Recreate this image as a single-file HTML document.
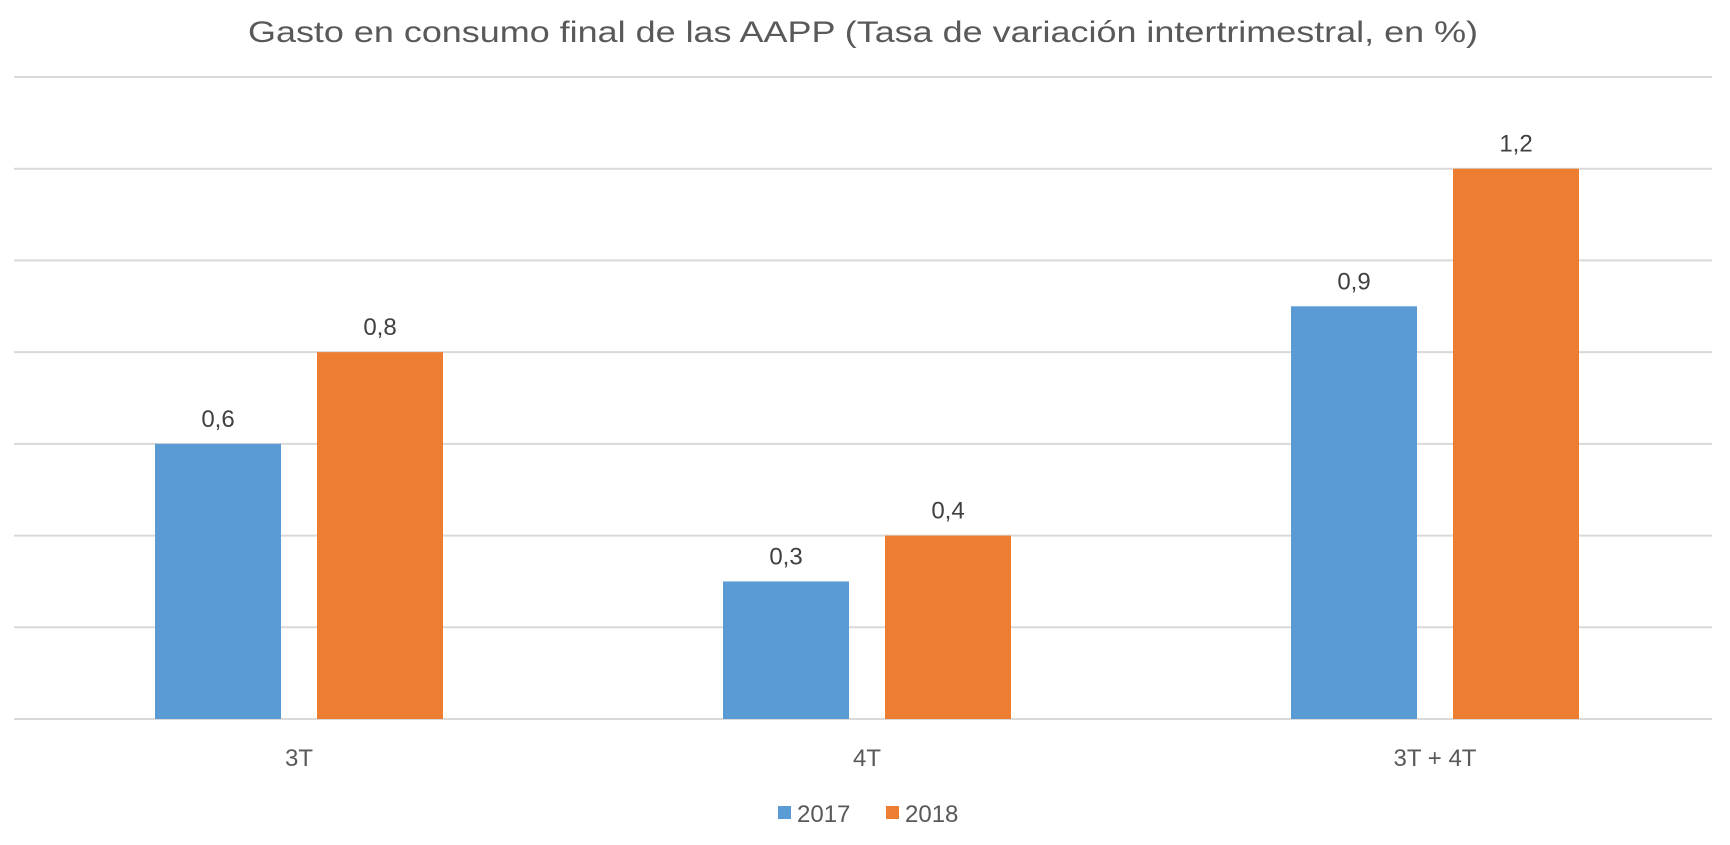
<!DOCTYPE html>
<html><head><meta charset="utf-8"><style>
html,body{margin:0;padding:0;background:#fff;}
svg{display:block;font-family:"Liberation Sans",sans-serif;}
</style></head><body>
<svg id="chart" width="1730" height="845">
<text x="863" y="42" text-anchor="middle" font-size="30" fill="#595959" textLength="1230" lengthAdjust="spacingAndGlyphs">Gasto en consumo final de las AAPP (Tasa de variación intertrimestral, en %)</text>
<g id="grid"></g><g id="bars"></g><g id="labels"></g>
<g>
<rect x="778" y="806" width="13" height="13" fill="#5B9BD5"/>
<text x="797" y="822" font-size="24" fill="#595959">2017</text>
<rect x="886" y="806" width="13" height="13" fill="#ED7D31"/>
<text x="905" y="822" font-size="24" fill="#595959">2018</text>
</g>
</svg>
<script>
const categories = ["3T", "4T", "3T + 4T"];
const series2017 = [0.6, 0.3, 0.9];
const series2018 = [0.8, 0.4, 1.2];
const yTicks = [0, 0.2, 0.4, 0.6, 0.8, 1.0, 1.2, 1.4];
const NS = "http://www.w3.org/2000/svg";
const gridLeft = 14, gridRight = 1712, left = 15, right = 1719, y0 = 719, yTop = 77, yMax = 1.4;
const y = v => y0 - (v / yMax) * (y0 - yTop);
const bandW = (right - left) / categories.length;
const xc = i => left + bandW * (i + 0.5);
const barW = 126, gap = 36;
function mk(tag, attrs, parent) {
  const e = document.createElementNS(NS, tag);
  for (const k in attrs) e.setAttribute(k, attrs[k]);
  parent.appendChild(e);
  return e;
}
const grid = document.getElementById('grid'), bars = document.getElementById('bars'), labels = document.getElementById('labels');
yTicks.forEach(t => {
  const l = mk('line', {x1: gridLeft, x2: gridRight, y1: y(t), y2: y(t), stroke: '#D9D9D9', 'stroke-width': 2}, grid);
  
  
});
const seriesList = [[series2017, '#5B9BD5', '2017'], [series2018, '#ED7D31', '2018']];
categories.forEach((c, i) => {
  seriesList.forEach(([vals, col, name], s) => {
    const x = s === 0 ? xc(i) - gap / 2 - barW : xc(i) + gap / 2;
    const r = mk('rect', {x: x, y: y(vals[i]), width: barW, height: y0 - y(vals[i]), fill: col}, bars);
    
    
    const t = mk('text', {x: x + barW / 2, y: y(vals[i]) - 17, 'text-anchor': 'middle', 'font-size': 24, fill: '#404040'}, labels);
    t.textContent = vals[i].toFixed(1).replace('.', ',');
    
    
  });
  const ct = mk('text', {x: xc(i), y: 766, 'text-anchor': 'middle', 'font-size': 24, fill: '#595959'}, labels);
  ct.textContent = c;
  
  
});
</script>
</body></html>
